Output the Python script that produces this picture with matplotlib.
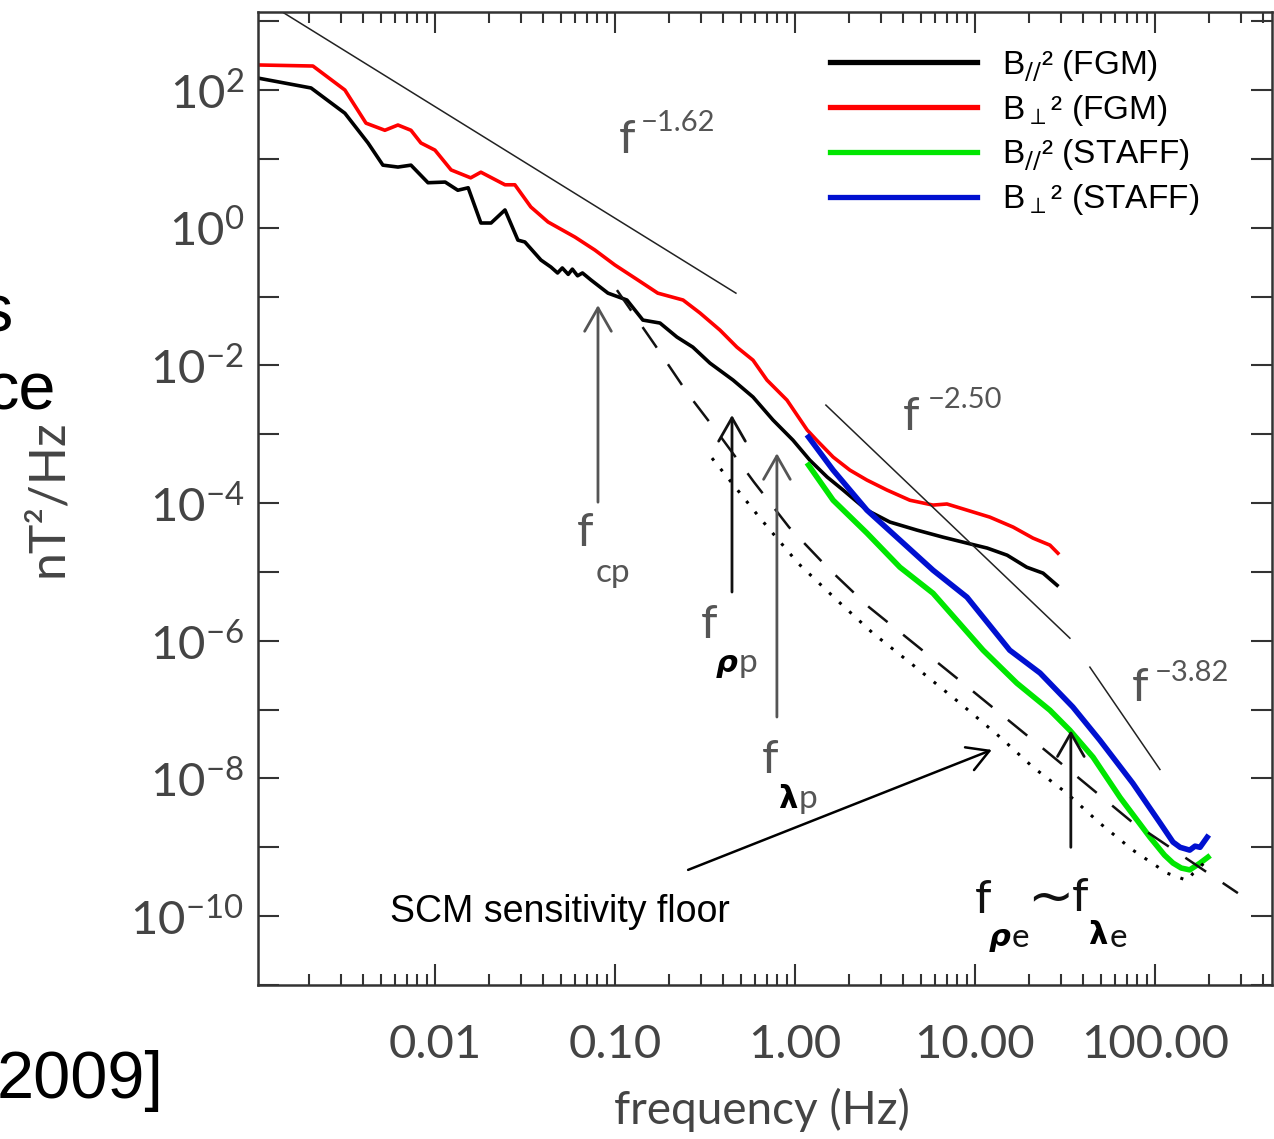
import math
import matplotlib
matplotlib.use("Agg")
import matplotlib.pyplot as plt
from matplotlib.ticker import FixedLocator, FuncFormatter, NullFormatter, NullLocator

W, H = 1274, 1139

# spectra (frequency in Hz, PSD in nT^2/Hz)
fgm_par_f = [0.00104, 0.00205, 0.00316, 0.00425, 0.00514, 0.00623, 0.00736, 0.00915, 0.0114, 0.0134,
             0.0153, 0.0180, 0.0205, 0.0245, 0.0289, 0.0316, 0.0388, 0.0441, 0.048, 0.051, 0.055,
             0.058, 0.062, 0.066, 0.0736, 0.0915, 0.1166, 0.143, 0.178, 0.221, 0.271, 0.337, 0.453,
             0.585, 0.755, 0.975, 1.21, 1.51, 1.85, 2.51, 3.37, 4.76, 6.64, 9.03, 11.7, 15.1, 19.4,
             23.9, 28.6]
fgm_par_p = [149, 107, 46, 17, 8.1, 7.6, 8.1, 4.5, 4.6, 3.5,
             3.8, 1.17, 1.17, 1.81, 0.66, 0.62, 0.339, 0.268, 0.22, 0.26, 0.21,
             0.25, 0.2, 0.22, 0.174, 0.112, 0.089, 0.0455, 0.0412, 0.0258, 0.0184, 0.0108, 0.00612,
             0.00347, 0.00161, 0.00082, 0.00042, 0.000239, 0.000155, 7.9e-5, 5.3e-5, 4.05e-5, 3.2e-5,
             2.62e-5, 2.22e-5, 1.75e-5, 1.17e-5, 9.6e-6, 6.4e-6]

fgm_perp_f = [0.00104, 0.0021, 0.00316, 0.00414, 0.00527, 0.00623, 0.00736, 0.00836, 0.01, 0.0123,
              0.0158, 0.018, 0.0245, 0.0278, 0.0341, 0.0425, 0.060, 0.0774, 0.1, 0.134, 0.173, 0.239,
              0.297, 0.383, 0.476, 0.585, 0.699, 0.903, 1.17, 1.32, 1.63, 2.02, 2.51, 3.24, 4.35,
              5.85, 6.99, 9.03, 12.1, 16.3, 21.0, 26.1, 28.9]
fgm_perp_p = [231, 223, 100, 33, 26, 31, 26, 17, 13.4, 6.9,
              5.3, 6.4, 4.2, 4.2, 2.0, 1.21, 0.73, 0.473, 0.287, 0.174, 0.112, 0.089,
              0.0576, 0.0326, 0.0184, 0.0119, 0.00612, 0.00313, 0.00115, 0.00082, 0.000466, 0.000301,
              0.000216, 0.000155, 0.00011, 9.35e-5, 9.7e-5, 7.9e-5, 6.25e-5, 4.48e-5, 3.1e-5, 2.45e-5,
              1.87e-5]

staff_par_f = [1.19, 1.63, 2.51, 3.83, 5.85, 11.1, 17.1, 26.1, 33.7, 45.3, 64.0, 93.8, 113, 126, 140,
               156, 178, 197]
staff_par_p = [3.56e-4, 1.1e-4, 3.67e-5, 1.17e-5, 4.9e-6, 7.3e-7, 2.42e-7, 9.8e-8, 5.0e-8, 2.04e-8,
               5.3e-9, 1.4e-9, 7.7e-10, 5.9e-10, 5.0e-10, 4.7e-10, 5.9e-10, 7.2e-10]

staff_perp_f = [1.19, 1.63, 2.51, 3.83, 5.85, 9.03, 15.6, 23.0, 35.0, 49.4, 75.4, 107, 126, 138, 156,
                167, 178, 195]
staff_perp_p = [9.1e-4, 3.01e-4, 7.9e-5, 2.9e-5, 1.06e-5, 4.3e-6, 7.3e-7, 3.4e-7, 1.09e-7, 3.6e-8,
                8.5e-9, 2.24e-9, 1.19e-9, 1.0e-9, 9.1e-10, 1.04e-9, 1.0e-9, 1.4e-9]

# SCM sensitivity floor (dotted)
floor_f = [0.346, 0.64, 1.04, 1.71, 2.71, 4.76, 8.26, 13.8, 21.0, 32.4, 49.4, 75.4, 117, 151, 163, 195]
floor_p = [4.5e-4, 6.05e-5, 1.34e-5, 3.9e-6, 1.29e-6, 4.0e-7, 1.24e-7, 3.98e-8, 1.46e-8, 6.1e-9,
           2.24e-9, 9.1e-10, 4.2e-10, 3.3e-10, 4.2e-10, 6.5e-10]

# dashed reference curve
dashed_f = [0.1026, 0.167, 0.255, 0.388, 0.592, 0.926, 1.525, 2.58, 7.94, 24.5, 73.6, 289]
dashed_p = [0.124, 0.0197, 0.00383, 0.00091, 2.02e-4, 4.48e-5, 1.14e-5, 3.08e-6, 2.86e-7, 2.58e-8,
            2.4e-9, 2.16e-10]

# power-law guide lines: end points
fit_labels = ["\u22121.62", "\u22122.50", "\u22123.82"]
fit_f = [(0.0014, 0.47), (1.486, 33.7), (43.5, 106.6)]
fit_p = [(1390, 0.112), (0.00265, 1.09e-6), (4.14e-7, 1.35e-8)]

# characteristic frequency arrows
cut_f = [0.0805, 0.447, 0.794, 34.1]
cut_tail = [1.03e-4, 5.1e-6, 7.8e-8, 1.0e-9]
cut_head = [0.075, 1.9e-3, 5.3e-4, 5.0e-8]
cut_color = ["#555555", "#111111", "#555555", "#111111"]

scm_tail = (0.255, 4.7e-10)
scm_head = (12.4, 2.6e-8)

legend_labels = [r"B$_{//}$² (FGM)", r"B$_{\perp}$² (FGM)",
                 r"B$_{//}$² (STAFF)", r"B$_{\perp}$² (STAFF)"]
xtick_vals = [0.01, 0.1, 1, 10, 100]

thin = "Lato"
grey = "#444444"


def px(x, y):
    return x / W, 1 - y / H


fig = plt.figure(figsize=(W / 100, H / 100), dpi=100)
ax = fig.add_axes([258 / W, 1 - 985 / H, (1272 - 258) / W, (985 - 12) / H])
ax.set_xscale("log")
ax.set_yscale("log")
ax.set_xlim(1.04e-3, 447)
ax.set_ylim(1.0e-11, 10 ** 3.133)

l1, = ax.plot(fgm_par_f, fgm_par_p, color="black", lw=2.6)
l2, = ax.plot(fgm_perp_f, fgm_perp_p, color="#ff0000", lw=2.6)
l3, = ax.plot(staff_par_f, staff_par_p, color="#00e600", lw=4)
l4, = ax.plot(staff_perp_f, staff_perp_p, color="#0010d0", lw=4)
ax.plot(floor_f, floor_p, color="black", lw=2.2, linestyle=(0, (1, 3.5)))
ax.plot(dashed_f, dashed_p, color="#111111", lw=1.8, linestyle=(0, (10, 8)))

for ff, pp in zip(fit_f, fit_p):
    ax.plot(ff, pp, color="#222222", lw=1.1)

for f, t, h, c in zip(cut_f, cut_tail, cut_head, cut_color):
    ax.annotate("", xy=(f, h), xytext=(f, t),
                arrowprops=dict(arrowstyle="->,head_length=0.7,head_width=0.4", color=c,
                                lw=2, mutation_scale=24, shrinkA=0, shrinkB=0))
ax.annotate("", xy=scm_head, xytext=scm_tail,
            arrowprops=dict(arrowstyle="->,head_length=0.7,head_width=0.4", color="black",
                            lw=1.8, mutation_scale=22, shrinkA=0, shrinkB=0))

# ticks
ax.xaxis.set_major_locator(FixedLocator([10.0 ** k for k in range(-3, 3)]))
ax.xaxis.set_minor_locator(FixedLocator([m * 10.0 ** k for k in range(-3, 3) for m in range(2, 10)]))
ax.xaxis.set_major_formatter(FuncFormatter(lambda v, pos: "%.2f" % v if v in xtick_vals else ""))
ax.xaxis.set_minor_formatter(NullFormatter())
ax.yaxis.set_major_locator(FixedLocator([10.0 ** k for k in range(-11, 4)]))
ax.yaxis.set_minor_locator(NullLocator())


def yfmt(v, pos):
    e = int(round(math.log10(v)))
    return r"$\mathregular{10^{%d}}$" % e if e % 2 == 0 else ""


ax.yaxis.set_major_formatter(FuncFormatter(yfmt))
ax.tick_params(which="both", direction="in", top=True, right=True, color="#333333", width=1.5)
ax.tick_params(which="major", length=15)
ax.tick_params(which="minor", length=8)
ax.tick_params(axis="x", pad=28, labelsize=34, labelcolor=grey)
ax.tick_params(axis="y", pad=10, labelsize=34, labelcolor=grey)
for lab in ax.get_xticklabels() + ax.get_yticklabels():
    lab.set_family(thin)
for s in ax.spines.values():
    s.set_color("#333333")
    s.set_linewidth(1.8)

# axis titles
fig.text(*px(762, 1110), "frequency (Hz)", family=thin, fontsize=33,
         color=grey, ha="center", va="center")
fig.text(*px(48, 498), "nT\u00b2/Hz", family=thin, fontsize=36,
         color=grey, ha="center", va="center", rotation=90)

# power-law labels
for (fx, fy, ex, ey), lab in zip([(627, 140, 641, 123), (911, 417, 928, 400), (1140, 688, 1155, 673)],
                                 fit_labels):
    fig.text(*px(fx, fy), "f", family=thin, fontsize=34, color="#555555",
             ha="center", va="center")
    fig.text(*px(ex, ey), lab, family=thin, fontsize=21, color="#555555",
             ha="left", va="center")

# characteristic frequency labels
sub = [("cp", 585, 533, 613, 573, "#555555"),
       ("p", 709, 625, 748, 663, "#555555"),
       ("p", 770, 760, 808, 799, "#555555")]
for s, fx, fy, sx, sy, c in sub:
    fig.text(*px(fx, fy), "f", family=thin, fontsize=34, color=c, ha="center", va="center")
    fig.text(*px(sx, sy), s, family=thin, fontsize=24, color=c, ha="center", va="center")
fig.text(*px(727, 663), "\u03c1", family="DejaVu Sans", weight="bold", style="italic",
         fontsize=22, color="black", ha="center", va="center")
fig.text(*px(788, 799), "\u03bb", family="DejaVu Sans", weight="bold",
         fontsize=22, color="black", ha="center", va="center")

fig.text(*px(983, 900), "f", family=thin, fontsize=34, color="#111111", ha="center", va="center")
fig.text(*px(1000, 938), "\u03c1", family="DejaVu Sans", weight="bold", style="italic",
         fontsize=22, color="black", ha="center", va="center")
fig.text(*px(1020, 938), "e", family=thin, fontsize=24, color="#111111", ha="center", va="center")
fig.text(*px(1050, 899), "~", family="DejaVu Sans", fontsize=40, color="#111111",
         ha="center", va="center")
fig.text(*px(1080, 898), "f", family=thin, fontsize=34, color="#111111", ha="center", va="center")
fig.text(*px(1098, 936), "\u03bb", family="DejaVu Sans", weight="bold",
         fontsize=22, color="black", ha="center", va="center")
fig.text(*px(1118, 938), "e", family=thin, fontsize=24, color="#111111", ha="center", va="center")

fig.text(*px(390, 922), "SCM sensitivity floor", family="Liberation Sans", fontsize=27,
         color="black", ha="left", va="baseline")

# legend
leg = ax.legend([l1, l2, l3, l4], legend_labels, loc="upper left",
                bbox_to_anchor=px(830, 48), bbox_transform=fig.transFigure,
                frameon=False, prop={"family": "Liberation Sans", "size": 24},
                handlelength=4.4, handletextpad=0.75, labelspacing=0.28,
                borderpad=0, borderaxespad=0)
for ln in leg.get_lines():
    ln.set_linewidth(3.8)

# fragments of slide text outside the chart
fig.text(*px(12, 332), "s", family="Liberation Sans", fontsize=48, ha="right", va="baseline")
fig.text(*px(56, 410), "ce", family="Liberation Sans", fontsize=48, ha="right", va="baseline")
fig.text(*px(164, 1098), "2009]", family="Liberation Sans", fontsize=48, ha="right", va="baseline")

fig.savefig("out.png", dpi=100)
